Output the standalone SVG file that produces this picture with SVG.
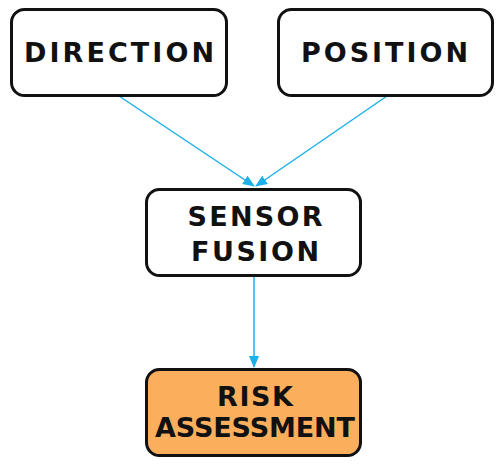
<svg xmlns="http://www.w3.org/2000/svg" width="504" height="465" viewBox="0 0 504 465">
<defs>
<style>
.box{fill:#fff;stroke:#111;stroke-width:3}
.risk{fill:#FBAE5C}
.t{font-family:"DejaVu Sans",Verdana,sans-serif;font-weight:bold;font-size:27px;fill:#111;text-anchor:middle}
.c{stroke:#1DB1EA;stroke-width:1.5;fill:none;marker-end:url(#ah)}
</style>
<marker id="ah" markerWidth="12" markerHeight="10" refX="11" refY="5" orient="auto" markerUnits="userSpaceOnUse">
<path d="M0,0 L12,5 L0,10 Z" fill="#1DB1EA"/>
</marker>
</defs>
<rect width="504" height="465" fill="#fff"/>
<g id="connectors">
<line class="c" x1="119" y1="96" x2="254" y2="186"/>
<line class="c" x1="387" y1="96" x2="256" y2="186"/>
<line class="c" x1="254" y1="276" x2="254" y2="367"/>
</g>
<g id="direction">
<rect class="box" x="11.5" y="9.5" width="215" height="86" rx="13"/>
<text class="t" x="119" y="62" textLength="190" lengthAdjust="spacing">DIRECTION</text>
</g>
<g id="position">
<rect class="box" x="278.5" y="9.5" width="214" height="86" rx="13"/>
<text class="t" x="384.5" y="62" textLength="167" lengthAdjust="spacing">POSITION</text>
</g>
<g id="sensor-fusion">
<rect class="box" x="146.5" y="189.5" width="214" height="86" rx="13"/>
<text class="t" x="255" y="226" textLength="135" lengthAdjust="spacing">SENSOR</text>
<text class="t" x="255" y="261" textLength="128" lengthAdjust="spacing">FUSION</text>
</g>
<g id="risk-assessment">
<rect class="box risk" x="146.5" y="369.5" width="214" height="86" rx="13"/>
<text class="t" x="255" y="406" textLength="76" lengthAdjust="spacing">RISK</text>
<text class="t" x="255" y="437" textLength="200" lengthAdjust="spacing">ASSESSMENT</text>
</g>
</svg>
